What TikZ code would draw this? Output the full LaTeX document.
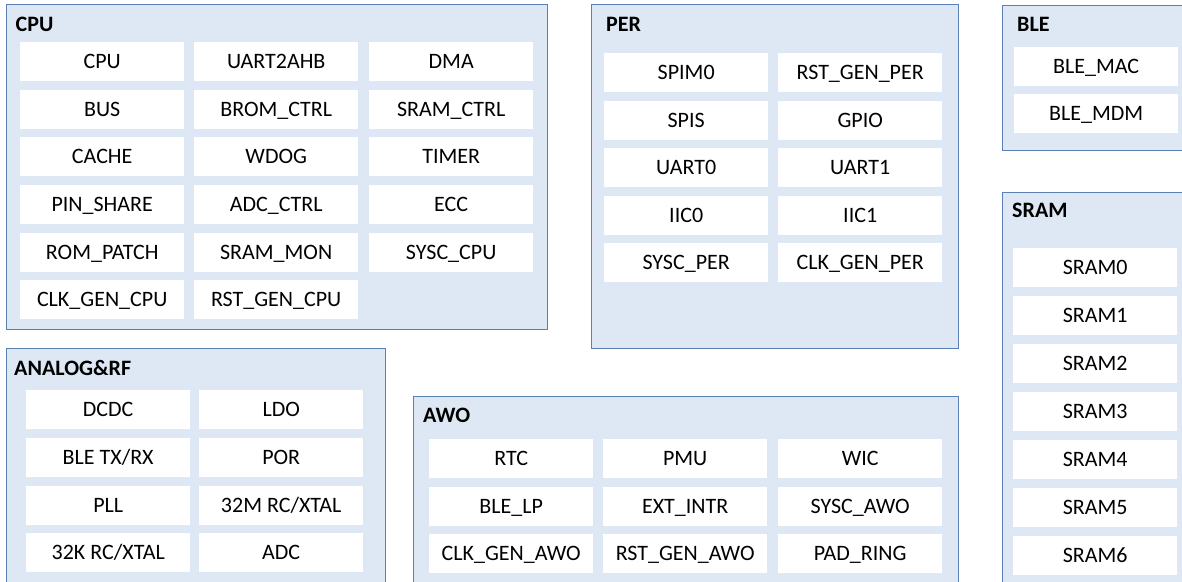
\documentclass[tikz,border=0pt]{standalone}
\usepackage{fontspec}
\setmainfont{Carlito}
\definecolor{grpfill}{HTML}{DEE8F4}
\definecolor{grpline}{HTML}{5B80B2}
\newcommand{\blkfont}{\fontsize{22}{26}\selectfont}
\tikzset{
  grp/.style={draw=grpline, fill=grpfill, line width=1pt},
  grptitle/.style={anchor=west, inner sep=0pt, font=\blkfont\bfseries},
  blk/.style={anchor=north west, fill=white, inner sep=0pt, font=\blkfont,
    minimum width=164pt, minimum height=39pt, text height=14pt, text depth=0pt},
}

\begin{document}
\begin{tikzpicture}[x=1pt, y=-1pt]
      \useasboundingbox (0, 0) rectangle (1182, 581);
      \clip (0, 0) rectangle (1182, 581);

      % CPU
      \begin{scope}[shift={(6, 4)}]
        \draw [grp] (0, 0) rectangle (541, 325);
        \node (cpu-title) [grptitle] at (9.5, 20.5) {CPU};
        \node (cpu) [blk] at (14, 38) {CPU};
        \node (uart2ahb) [blk] at (188, 38) {UART2AHB};
        \node (dma) [blk] at (363, 38) {DMA};
        \node (bus) [blk] at (14, 85.6) {BUS};
        \node (bromctrl) [blk] at (188, 85.6) {BROM\_CTRL};
        \node (sramctrl) [blk] at (363, 85.6) {SRAM\_CTRL};
        \node (cache) [blk] at (14, 133.2) {CACHE};
        \node (wdog) [blk] at (188, 133.2) {WDOG};
        \node (timer) [blk] at (363, 133.2) {TIMER};
        \node (pinshare) [blk] at (14, 180.8) {PIN\_SHARE};
        \node (adcctrl) [blk] at (188, 180.8) {ADC\_CTRL};
        \node (ecc) [blk] at (363, 180.8) {ECC};
        \node (rompatch) [blk] at (14, 228.4) {ROM\_PATCH};
        \node (srammon) [blk] at (188, 228.4) {SRAM\_MON};
        \node (syscpu) [blk] at (363, 228.4) {SYSC\_CPU};
        \node (clkgencpu) [blk] at (14, 276) {CLK\_GEN\_CPU};
        \node (rstgencpu) [blk] at (188, 276) {RST\_GEN\_CPU};
      \end{scope}

      % PER
      \begin{scope}[shift={(591, 4)}]
        \draw [grp] (0, 0) rectangle (367, 344);
        \node (per-title) [grptitle] at (15, 20.5) {PER};
        \node (spim0) [blk] at (13, 49) {SPIM0};
        \node (rstgenper) [blk] at (187, 49) {RST\_GEN\_PER};
        \node (spis) [blk] at (13, 96.5) {SPIS};
        \node (gpio) [blk] at (187, 96.5) {GPIO};
        \node (uart0) [blk] at (13, 144) {UART0};
        \node (uart1) [blk] at (187, 144) {UART1};
        \node (iic0) [blk] at (13, 191.5) {IIC0};
        \node (iic1) [blk] at (187, 191.5) {IIC1};
        \node (syscper) [blk] at (13, 239) {SYSC\_PER};
        \node (clkgenper) [blk] at (187, 239) {CLK\_GEN\_PER};
      \end{scope}

      % BLE
      \begin{scope}[shift={(1002, 5)}]
        \draw [grp] (0, 0) rectangle (200, 145);
        \node (ble-title) [grptitle] at (15, 19.5) {BLE};
        \node (blemac) [blk] at (12, 42) {BLE\_MAC};
        \node (blemdm) [blk] at (12, 89) {BLE\_MDM};
      \end{scope}

      % SRAM
      \begin{scope}[shift={(1002, 192)}]
        \draw [grp] (0, 0) rectangle (200, 420);
        \node (sram-title) [grptitle] at (10, 18.5) {SRAM};
        \node (sram0) [blk] at (11, 56) {SRAM0};
        \node (sram1) [blk] at (11, 103.9) {SRAM1};
        \node (sram2) [blk] at (11, 151.8) {SRAM2};
        \node (sram3) [blk] at (11, 199.7) {SRAM3};
        \node (sram4) [blk] at (11, 247.6) {SRAM4};
        \node (sram5) [blk] at (11, 295.5) {SRAM5};
        \node (sram6) [blk] at (11, 343.4) {SRAM6};
      \end{scope}

      % ANALOG&RF
      \begin{scope}[shift={(6, 348)}]
        \draw [grp] (0, 0) rectangle (379, 260);
        \node (ana-title) [grptitle] at (8, 19.5) {ANALOG\&RF};
        \node (dcdc) [blk] at (20, 42) {DCDC};
        \node (ldo) [blk] at (193, 42) {LDO};
        \node (bletrx) [blk] at (20, 90) {BLE TX/RX};
        \node (por) [blk] at (193, 90) {POR};
        \node (pll) [blk] at (20, 138) {PLL};
        \node (rc32m) [blk] at (193, 138) {32M RC/XTAL};
        \node (rc32k) [blk] at (20, 185) {32K RC/XTAL};
        \node (adc) [blk] at (193, 185) {ADC};
      \end{scope}

      % AWO
      \begin{scope}[shift={(413, 396)}]
        \draw [grp] (0, 0) rectangle (545, 210);
        \node (awo-title) [grptitle] at (10, 19.5) {AWO};
        \node (rtc) [blk] at (16, 43) {RTC};
        \node (pmu) [blk] at (190, 43) {PMU};
        \node (wic) [blk] at (365, 43) {WIC};
        \node (blelp) [blk] at (16, 91) {BLE\_LP};
        \node (extintr) [blk] at (190, 91) {EXT\_INTR};
        \node (syscawo) [blk] at (365, 91) {SYSC\_AWO};
        \node (clkgenawo) [blk] at (16, 138) {CLK\_GEN\_AWO};
        \node (rstgenawo) [blk] at (190, 138) {RST\_GEN\_AWO};
        \node (padring) [blk] at (365, 138) {PAD\_RING};
      \end{scope}
    \end{tikzpicture}
\end{document}
